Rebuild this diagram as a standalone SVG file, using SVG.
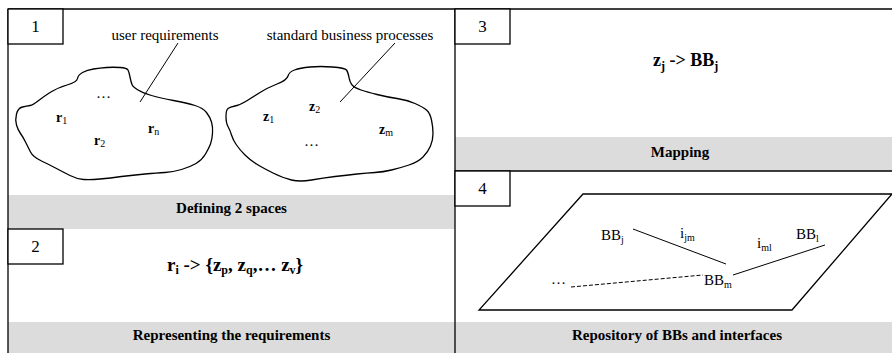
<svg xmlns="http://www.w3.org/2000/svg" width="892" height="353" viewBox="0 0 892 353">
  <style>
    .line { stroke: #000; stroke-width: 1.3; fill: none; }
    .thin { stroke: #000; stroke-width: 1; fill: none; }
    .band { fill: #dcdcdc; }
    .tag { fill: #fff; stroke: #000; stroke-width: 1.3; }
    text { font-family: "Liberation Serif", "Times New Roman", serif; fill: #000; }
    .num { font-size: 17px; text-anchor: middle; }
    .title { font-size: 15px; font-weight: bold; text-anchor: middle; }
    .label { font-size: 15px; }
    .var { font-size: 14px; font-weight: bold; }
    .formula { font-size: 18px; font-weight: bold; }
    .big { font-size: 19px; }
    .sub { font-size: 10px; font-weight: normal; }
    .fsub { font-size: 12px; }
  </style>

  <rect width="892" height="353" fill="#fff"/>

  <!-- gray caption bands -->
  <rect class="band" x="8" y="195" width="447" height="34"/>
  <rect class="band" x="8" y="322" width="447" height="31"/>
  <rect class="band" x="455" y="137" width="437" height="34"/>
  <rect class="band" x="455" y="322" width="437" height="31"/>

  <!-- frame lines -->
  <g id="frame">
    <line class="line" x1="8" y1="9" x2="892" y2="9"/>
    <line class="line" x1="8" y1="9" x2="8" y2="353"/>
    <line class="line" x1="455" y1="9" x2="455" y2="353"/>
    <line class="line" x1="455" y1="171" x2="892" y2="171"/>
  </g>

  <!-- panel 1: two spaces -->
  <g id="panel1">
    <rect class="tag" x="8" y="9" width="55" height="35"/>
    <text class="num" x="35.5" y="32">1</text>
    <path class="line" d="M67,85 Q77,82 77.5,78.5 Q78,75 82.5,72.5 Q87,70 93.5,69 Q100,68 106.5,67.5 Q113,67 120,67.5 Q127,68 128,70 Q129,72 130,77 Q131,82 132,84.5 Q133,87 138,90 Q143,93 151.5,95.5 Q160,98 173.5,100.5 Q187,103 195,105.5 Q203,108 206.5,112.5 Q210,117 211.5,122 Q213,127 212.5,133.5 Q212,140 210.5,144 Q209,148 205.5,154 Q202,160 196,163.5 Q190,167 181.5,169.5 Q173,172 165,172.5 Q157,173 145,174 Q133,175 121.5,176.5 Q110,178 100,179 Q90,180 83.5,179.5 Q77,179 70,175.5 Q63,172 56.5,168.5 Q50,165 41.5,161 Q33,157 30.5,152 Q28,147 25.5,142 Q23,137 20.5,133.5 Q18,130 16.5,125 Q15,120 16.5,114 Q18,108 22.5,107 Q27,106 30,105.5 Q33,105 38,101 Q43,97 50,92.5 Q57,88 67,85 Z"/>
    <path class="line" d="M277,84 Q287,80 288,76 Q289,72 294.5,70 Q300,68 310,67 Q320,66 332.5,67 Q345,68 346.5,70 Q348,72 349,77.5 Q350,83 352.5,85.5 Q355,88 361,90 Q367,92 377,94.5 Q387,97 397,98.5 Q407,100 415,103.5 Q423,107 426.5,110 Q430,113 431.5,120 Q433,127 433,133.5 Q433,140 430.5,146 Q428,152 423,157 Q418,162 409,165 Q400,168 391.5,170 Q383,172 375,172.5 Q367,173 357,174 Q347,175 335,176.5 Q323,178 311.5,180 Q300,182 291.5,180 Q283,178 273,173 Q263,168 256.5,164 Q250,160 245,155 Q240,150 236.5,145 Q233,140 231.5,135 Q230,130 228,126.5 Q226,123 226,116.5 Q226,110 228,108.5 Q230,107 235,106 Q240,105 246.5,101 Q253,97 260,92.5 Q267,88 277,84 Z"/>
    <line class="thin" x1="178" y1="43" x2="140" y2="102"/>
    <line class="thin" x1="395" y1="43" x2="340" y2="102"/>
    <text class="label" x="165" y="40" text-anchor="middle">user requirements</text>
    <text class="label" x="350" y="40" text-anchor="middle">standard business processes</text>
    <text class="var" x="56" y="122">r<tspan class="sub" dy="2">1</tspan></text>
    <text class="label" x="96" y="98">…</text>
    <text class="var" x="94" y="145">r<tspan class="sub" dy="2">2</tspan></text>
    <text class="var" x="148" y="133">r<tspan class="sub" dy="2">n</tspan></text>
    <text class="var" x="263" y="121">z<tspan class="sub" dy="2">1</tspan></text>
    <text class="var" x="309" y="111">z<tspan class="sub" dy="2">2</tspan></text>
    <text class="var" x="379" y="134">z<tspan class="sub" dy="2">m</tspan></text>
    <text class="label" x="304" y="146">…</text>
    <text class="title" x="231.5" y="213">Defining 2 spaces</text>
  </g>

  <!-- panel 2: requirement representation -->
  <g id="panel2">
    <rect class="tag" x="8" y="229" width="55" height="35"/>
    <text class="num" x="35.5" y="252">2</text>
    <text class="formula big" x="167" y="271">r<tspan class="fsub" dy="3">i</tspan><tspan dy="-3"> -&gt; {z</tspan><tspan class="fsub" dy="3">p</tspan><tspan dy="-3">, z</tspan><tspan class="fsub" dy="3">q</tspan><tspan dy="-3">,… z</tspan><tspan class="fsub" dy="3">v</tspan><tspan dy="-3">}</tspan></text>
    <text class="title" x="231.5" y="340">Representing the requirements</text>
  </g>

  <!-- panel 3: mapping -->
  <g id="panel3">
    <rect class="tag" x="455" y="9" width="55" height="35"/>
    <text class="num" x="482.5" y="32">3</text>
    <text class="formula" x="653" y="66">z<tspan class="fsub" dy="4">j</tspan><tspan dy="-4"> -&gt; BB</tspan><tspan class="fsub" dy="4">j</tspan></text>
    <text class="title" x="680" y="157">Mapping</text>
  </g>

  <!-- panel 4: repository -->
  <g id="panel4">
    <rect class="tag" x="455" y="171" width="55" height="35"/>
    <text class="num" x="482.5" y="194">4</text>
    <polygon class="line" points="583,194 892,194 792,310 479,310"/>
    <text class="label" x="601" y="240">BB<tspan class="sub" dy="3">j</tspan></text>
    <text class="label" x="680" y="238">i<tspan class="sub" dy="3">jm</tspan></text>
    <text class="label" x="757" y="248">i<tspan class="sub" dy="3">ml</tspan></text>
    <text class="label" x="796" y="239">BB<tspan class="sub" dy="3">l</tspan></text>
    <text class="label" x="704" y="285">BB<tspan class="sub" dy="3">m</tspan></text>
    <text class="label" x="551" y="284">…</text>
    <g id="links">
      <line class="thin" x1="633" y1="229" x2="726" y2="264"/>
      <line class="thin" x1="733" y1="275" x2="825" y2="245"/>
      <line class="thin" x1="571" y1="287" x2="703" y2="275" stroke-dasharray="4,2"/>
    </g>
    <text class="title" x="677" y="340">Repository of BBs and interfaces</text>
  </g>
</svg>
